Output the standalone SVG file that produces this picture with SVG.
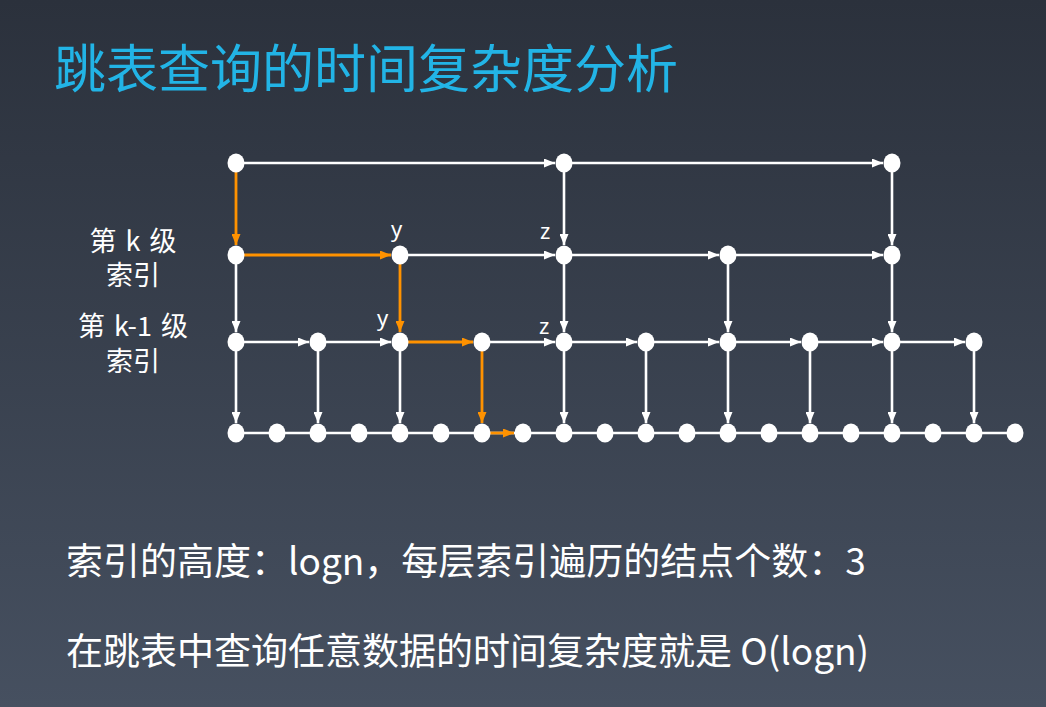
<svg xmlns="http://www.w3.org/2000/svg" width="1046" height="707" viewBox="0 0 1046 707">
  <defs>
    <linearGradient id="bg" x1="0" y1="0" x2="0" y2="1">
      <stop offset="0" stop-color="#2b313c"/>
      <stop offset="1" stop-color="#465060"/>
    </linearGradient>
    <marker id="ah-w" markerUnits="userSpaceOnUse" markerWidth="11" markerHeight="9" refX="11" refY="4.5" orient="auto">
      <path d="M0,0 L11,4.5 L0,9 z" fill="#ffffff"/>
    </marker>
    <marker id="ah-o" markerUnits="userSpaceOnUse" markerWidth="11" markerHeight="9" refX="11" refY="4.5" orient="auto">
      <path d="M0,0 L11,4.5 L0,9 z" fill="#ff9200"/>
    </marker>
  </defs>
  <style>
    .cjk { font-family: "Noto Sans CJK SC", "Noto Sans", sans-serif; }
    .title { fill: #22b4e6; font-size: 52px; }
    .label { fill: #ffffff; font-size: 27px; text-anchor: middle; word-spacing: 3px; }
    .var { fill: #ffffff; font-size: 22px; font-family: "Noto Sans", "DejaVu Sans", sans-serif; }
    .body { fill: #ffffff; font-size: 37px; }
    .w { stroke: #ffffff; stroke-width: 2.6; fill: none; }
    .wa { stroke: #ffffff; stroke-width: 2.6; fill: none; marker-end: url(#ah-w); }
    .oa { stroke: #ff9200; stroke-width: 2.8; fill: none; marker-end: url(#ah-o); }
    .node ellipse { fill: #ffffff; }
  </style>

  <rect x="0" y="0" width="1046" height="707" fill="url(#bg)"/>

  <text class="cjk title" x="54" y="88">跳表查询的时间复杂度分析</text>

  <!-- level labels -->
  <text class="cjk label" x="133" y="251">第 k 级</text>
  <text class="cjk label" x="133" y="285">索引</text>
  <text class="cjk label" x="133" y="336">第 k-1 级</text>
  <text class="cjk label" x="133" y="371">索引</text>

  <!-- connectors -->
  <g id="connectors">
    <!-- top level -->
    <line class="wa" x1="244" y1="163" x2="555" y2="163"/>
    <line class="wa" x1="572" y1="163" x2="883" y2="163"/>
    <line class="wa" x1="564" y1="172" x2="564" y2="245"/>
    <line class="wa" x1="892" y1="172" x2="892" y2="245"/>
    <!-- level k -->
    <line class="wa" x1="408" y1="255" x2="555" y2="255"/>
    <line class="wa" x1="572" y1="255" x2="719" y2="255"/>
    <line class="wa" x1="736" y1="255" x2="883" y2="255"/>
    <line class="wa" x1="236" y1="264" x2="236" y2="332"/>
    <line class="wa" x1="564" y1="264" x2="564" y2="332"/>
    <line class="wa" x1="728" y1="264" x2="728" y2="332"/>
    <line class="wa" x1="892" y1="264" x2="892" y2="332"/>
    <!-- level k-1 -->
    <line class="wa" x1="244" y1="342" x2="309" y2="342"/>
    <line class="wa" x1="326" y1="342" x2="391" y2="342"/>
    <line class="wa" x1="490" y1="342" x2="555" y2="342"/>
    <line class="wa" x1="572" y1="342" x2="637" y2="342"/>
    <line class="wa" x1="654" y1="342" x2="719" y2="342"/>
    <line class="wa" x1="736" y1="342" x2="801" y2="342"/>
    <line class="wa" x1="818" y1="342" x2="883" y2="342"/>
    <line class="wa" x1="900" y1="342" x2="965" y2="342"/>
    <line class="wa" x1="236" y1="351" x2="236" y2="423"/>
    <line class="wa" x1="318" y1="351" x2="318" y2="423"/>
    <line class="wa" x1="400" y1="351" x2="400" y2="423"/>
    <line class="wa" x1="564" y1="351" x2="564" y2="423"/>
    <line class="wa" x1="646" y1="351" x2="646" y2="423"/>
    <line class="wa" x1="728" y1="351" x2="728" y2="423"/>
    <line class="wa" x1="810" y1="351" x2="810" y2="423"/>
    <line class="wa" x1="892" y1="351" x2="892" y2="423"/>
    <line class="wa" x1="974" y1="351" x2="974" y2="423"/>
    <!-- base list -->
    <line class="w" x1="236" y1="433" x2="1015" y2="433"/>
    <!-- search path -->
    <line class="oa" x1="236" y1="168" x2="236" y2="245"/>
    <line class="oa" x1="240" y1="255" x2="391" y2="255"/>
    <line class="oa" x1="400" y1="260" x2="400" y2="332"/>
    <line class="oa" x1="404" y1="342" x2="473" y2="342"/>
    <line class="oa" x1="482" y1="347" x2="482" y2="423"/>
    <line class="oa" x1="486" y1="433" x2="514" y2="433"/>
  </g>

  <!-- level k+1 nodes -->
  <g id="n3-236" class="node"><ellipse cx="236" cy="163" rx="8.5" ry="9.5"/></g>
  <g id="n3-564" class="node"><ellipse cx="564" cy="163" rx="8.5" ry="9.5"/></g>
  <g id="n3-892" class="node"><ellipse cx="892" cy="163" rx="8.5" ry="9.5"/></g>

  <!-- level k nodes -->
  <g id="n2-236" class="node"><ellipse cx="236" cy="255" rx="8.5" ry="9.5"/></g>
  <g id="n2-400" class="node"><ellipse cx="400" cy="255" rx="8.5" ry="9.5"/></g>
  <g id="n2-564" class="node"><ellipse cx="564" cy="255" rx="8.5" ry="9.5"/></g>
  <g id="n2-728" class="node"><ellipse cx="728" cy="255" rx="8.5" ry="9.5"/></g>
  <g id="n2-892" class="node"><ellipse cx="892" cy="255" rx="8.5" ry="9.5"/></g>

  <!-- level k-1 nodes -->
  <g id="n1-236" class="node"><ellipse cx="236" cy="342" rx="8.5" ry="9.5"/></g>
  <g id="n1-318" class="node"><ellipse cx="318" cy="342" rx="8.5" ry="9.5"/></g>
  <g id="n1-400" class="node"><ellipse cx="400" cy="342" rx="8.5" ry="9.5"/></g>
  <g id="n1-482" class="node"><ellipse cx="482" cy="342" rx="8.5" ry="9.5"/></g>
  <g id="n1-564" class="node"><ellipse cx="564" cy="342" rx="8.5" ry="9.5"/></g>
  <g id="n1-646" class="node"><ellipse cx="646" cy="342" rx="8.5" ry="9.5"/></g>
  <g id="n1-728" class="node"><ellipse cx="728" cy="342" rx="8.5" ry="9.5"/></g>
  <g id="n1-810" class="node"><ellipse cx="810" cy="342" rx="8.5" ry="9.5"/></g>
  <g id="n1-892" class="node"><ellipse cx="892" cy="342" rx="8.5" ry="9.5"/></g>
  <g id="n1-974" class="node"><ellipse cx="974" cy="342" rx="8.5" ry="9.5"/></g>

  <!-- base list nodes -->
  <g id="n0-236" class="node"><ellipse cx="236" cy="433" rx="8.5" ry="9.5"/></g>
  <g id="n0-277" class="node"><ellipse cx="277" cy="433" rx="8.5" ry="9.5"/></g>
  <g id="n0-318" class="node"><ellipse cx="318" cy="433" rx="8.5" ry="9.5"/></g>
  <g id="n0-359" class="node"><ellipse cx="359" cy="433" rx="8.5" ry="9.5"/></g>
  <g id="n0-400" class="node"><ellipse cx="400" cy="433" rx="8.5" ry="9.5"/></g>
  <g id="n0-441" class="node"><ellipse cx="441" cy="433" rx="8.5" ry="9.5"/></g>
  <g id="n0-482" class="node"><ellipse cx="482" cy="433" rx="8.5" ry="9.5"/></g>
  <g id="n0-523" class="node"><ellipse cx="523" cy="433" rx="8.5" ry="9.5"/></g>
  <g id="n0-564" class="node"><ellipse cx="564" cy="433" rx="8.5" ry="9.5"/></g>
  <g id="n0-605" class="node"><ellipse cx="605" cy="433" rx="8.5" ry="9.5"/></g>
  <g id="n0-646" class="node"><ellipse cx="646" cy="433" rx="8.5" ry="9.5"/></g>
  <g id="n0-687" class="node"><ellipse cx="687" cy="433" rx="8.5" ry="9.5"/></g>
  <g id="n0-728" class="node"><ellipse cx="728" cy="433" rx="8.5" ry="9.5"/></g>
  <g id="n0-769" class="node"><ellipse cx="769" cy="433" rx="8.5" ry="9.5"/></g>
  <g id="n0-810" class="node"><ellipse cx="810" cy="433" rx="8.5" ry="9.5"/></g>
  <g id="n0-851" class="node"><ellipse cx="851" cy="433" rx="8.5" ry="9.5"/></g>
  <g id="n0-892" class="node"><ellipse cx="892" cy="433" rx="8.5" ry="9.5"/></g>
  <g id="n0-933" class="node"><ellipse cx="933" cy="433" rx="8.5" ry="9.5"/></g>
  <g id="n0-974" class="node"><ellipse cx="974" cy="433" rx="8.5" ry="9.5"/></g>
  <g id="n0-1015" class="node"><ellipse cx="1015" cy="433" rx="8.5" ry="9.5"/></g>

  <!-- node tags -->
  <text class="var" x="391" y="237">y</text>
  <text class="var" x="540" y="239">z</text>
  <text class="var" x="377" y="326">y</text>
  <text class="var" x="539" y="334">z</text>

  <!-- summary -->
  <text class="cjk body" x="66" y="575">索引的高度：logn，每层索引遍历的结点个数：3</text>
  <text class="cjk body" x="66" y="665">在跳表中查询任意数据的时间复杂度就是 O(logn)</text>
</svg>
